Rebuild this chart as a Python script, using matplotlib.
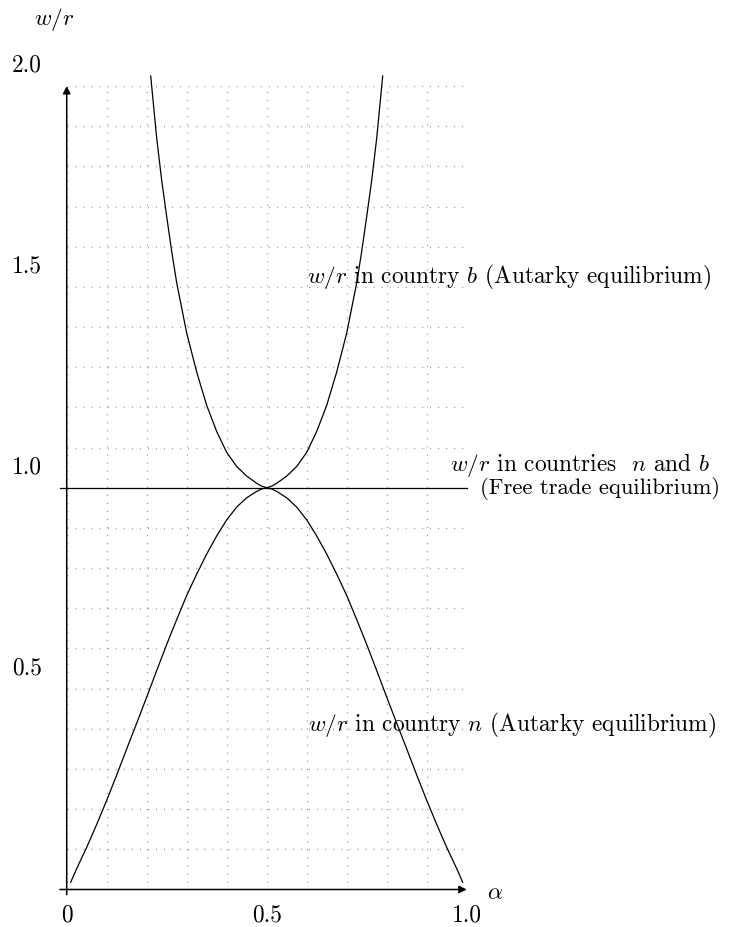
import matplotlib
matplotlib.use("Agg")
import matplotlib.pyplot as plt
from matplotlib.ticker import MultipleLocator

plt.rcParams['font.family'] = 'serif'
plt.rcParams['font.serif'] = ['cmr10']
plt.rcParams['mathtext.fontset'] = 'cm'
plt.rcParams['axes.formatter.use_mathtext'] = True

# w/r in country n (autarky)
alpha_n = [0.01, 0.025, 0.05, 0.075, 0.10, 0.125, 0.15, 0.175, 0.20, 0.225,
           0.25, 0.275, 0.30, 0.325, 0.35, 0.375, 0.40, 0.425, 0.45, 0.475,
           0.4875, 0.50, 0.5125, 0.525, 0.55, 0.575, 0.60, 0.625, 0.65, 0.675,
           0.70, 0.725, 0.75, 0.775, 0.80, 0.825, 0.85, 0.875, 0.90, 0.925,
           0.95, 0.975, 0.99]
wr_n = [0.018, 0.052, 0.105, 0.162, 0.222, 0.285, 0.35, 0.414, 0.479, 0.545,
        0.61, 0.672, 0.732, 0.785, 0.835, 0.88, 0.92, 0.952, 0.975, 0.991,
        0.997, 1.0, 0.997, 0.991, 0.975, 0.952, 0.92, 0.88, 0.835, 0.785,
        0.732, 0.672, 0.61, 0.545, 0.479, 0.414, 0.35, 0.285, 0.222, 0.162,
        0.105, 0.052, 0.018]

# w/r in country b (autarky)
alpha_b = [0.21, 0.225, 0.2375, 0.25, 0.2625, 0.275, 0.30, 0.325, 0.35, 0.375,
           0.40, 0.425, 0.45, 0.475, 0.4875, 0.50, 0.5125, 0.525, 0.55, 0.575,
           0.60, 0.625, 0.65, 0.675, 0.70, 0.725, 0.7375, 0.75, 0.7625, 0.775,
           0.79]
wr_b = [2.025, 1.87, 1.765, 1.675, 1.588, 1.51, 1.385, 1.288, 1.205, 1.14,
        1.088, 1.053, 1.029, 1.011, 1.004, 1.0, 1.004, 1.011, 1.029, 1.053,
        1.088, 1.14, 1.205, 1.288, 1.385, 1.51, 1.588, 1.675, 1.765, 1.87,
        2.025]

# free trade
wr_free = 1.0

xticks = [0, 0.5, 1.0]
xtick_labels = ['0', '0.5', '1.0']
yticks = [0.5, 1.0, 1.5, 2.0]
ytick_labels = ['0.5', '1.0', '1.5', '2.0']

fig = plt.figure(figsize=(7.35, 9.28), dpi=100)
ax = fig.add_axes([66.7/735, (928-890.5)/928, 400/735, 803.5/928])
ax.set_xlim(0, 1)
ax.set_ylim(0, 2)
for s in ax.spines.values():
    s.set_visible(False)
ax.xaxis.set_major_locator(MultipleLocator(0.1))
ax.yaxis.set_major_locator(MultipleLocator(0.1))
ax.tick_params(length=0, labelbottom=False, labelleft=False)
ax.grid(True, color='#808080', linestyle=(0, (0.6, 5.2)), linewidth=1.0)

lw = 0.9
ax.plot(alpha_n, wr_n, color='black', lw=lw, clip_on=False)
ax.plot(alpha_b, wr_b, color='black', lw=lw, clip_on=False)
ax.plot([-0.017, 1.0], [wr_free, wr_free], color='black', lw=lw, clip_on=False)

# axes with arrows
arr = dict(arrowstyle='-|>', lw=1.1, color='black', mutation_scale=11,
           shrinkA=0, shrinkB=0)
ax.annotate('', xy=(1.0, 0), xytext=(-0.017, 0), arrowprops=arr,
            annotation_clip=False)
ax.annotate('', xy=(0, 2.0), xytext=(0, -0.013), arrowprops=arr,
            annotation_clip=False)

fs = 16.8
for x, t in zip(xticks, xtick_labels):
    ax.text(x, -0.061, t, ha='center', va='center', fontsize=fs)
for y, t in zip(yticks, ytick_labels):
    ax.text(-0.099, y + 0.053, t, ha='center', va='center', fontsize=fs)

ax.text(-0.032, 2.167, r'$w/r$', ha='center', va='center', fontsize=fs)
ax.text(1.071, -0.006, r'$\alpha$', ha='center', va='center', fontsize=fs)

ax.text(0.601, 1.527, r'$w/r$ in country $b$ (Autarky equilibrium)',
        ha='left', va='center', fontsize=fs)
ax.text(0.958, 1.045, r'$w/r$ in countries  $n$ and $b$',
        ha='left', va='baseline', fontsize=fs)
ax.text(1.033, 0.987, '(Free trade equilibrium)',
        ha='left', va='baseline', fontsize=16.3)
ax.text(0.603, 0.412, r'$w/r$ in country $n$ (Autarky equilibrium)',
        ha='left', va='center', fontsize=fs)

fig.savefig('out.png', dpi=100)
plt.close(fig)
